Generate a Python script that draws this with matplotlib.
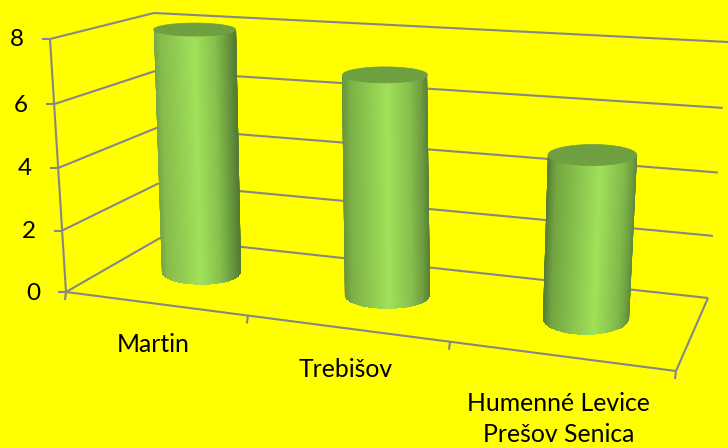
import numpy as np
import matplotlib
matplotlib.use("Agg")
import matplotlib.pyplot as plt
from matplotlib.colors import LinearSegmentedColormap
from matplotlib.patches import Polygon

# data
categories = ["Martin", "Trebišov", "Humenné Levice\nPrešov Senica"]
values = [8, 7, 5]
y_ticks = [0, 2, 4, 6, 8]

# layout of the 3D box (pixel corners)
FLOOR = {"fl": (66, 292), "fr": (676, 371), "bl": (160, 238), "br": (708, 298)}
TOP = {"fl": (50, 39), "fr": (686, 78), "bl": (154, 13), "br": (728, 42)}
VMAX = 8.0
K = 1.177
KV = 1.04
DEPTH = 0.55
GRID = "#868686"
BG = "#FFFF00"
CAP = "#6E9F41"
FONT = ["Lato", "DejaVu Sans"]

# cylinder radii in pixels: (rx_top, ry_top, rx_bottom, ry_bottom)
RADII = [(41, 6.5, 39.5, 12.5), (42.5, 8, 42.5, 13), (44.5, 10.5, 43, 16)]
# fine placement in pixels: (top dx, top dy, base dx, base dy)
NUDGE = [(0, 0, 0, 0), (1.5, 2, 5, 2), (2, 1, 2, 1)]
STOPS = [
    [(-1, (118, 165, 66)), (-0.85, (135, 188, 75)), (0.0, (160, 226, 90)), (0.5, (135, 192, 76)), (0.85, (100, 146, 58)), (1, (84, 124, 50))],
    [(-1, (105, 150, 60)), (-0.8, (126, 178, 70)), (0.05, (160, 226, 90)), (0.6, (135, 190, 76)), (0.88, (108, 155, 62)), (1, (90, 130, 54))],
    [(-1, (84, 124, 50)), (-0.8, (115, 165, 65)), (0.2, (160, 226, 90)), (0.75, (130, 185, 74)), (0.95, (108, 155, 62)), (1, (96, 140, 56))],
]


def persp(u):
    t = u / len(categories)
    return t / (t + K * (1 - t))


def project(u, w, v):
    """category position u, depth w (0 front, 1 back), value v -> pixels"""
    t = persp(u)
    out = []
    for c in (FLOOR, TOP):
        front = np.array(c["fl"]) * (1 - t) + np.array(c["fr"]) * t
        back = np.array(c["bl"]) * (1 - t) + np.array(c["br"]) * t
        out.append(front * (1 - w) + back * w)
    r = v / VMAX
    f = r / (r + KV * (1 - r))
    return out[0] * (1 - f) + out[1] * f


fig = plt.figure(figsize=(7.28, 4.48), dpi=100, facecolor=BG)
ax = fig.add_axes([0, 0, 1, 1])
ax.set_xlim(0, 728)
ax.set_ylim(448, 0)
ax.axis("off")
plt.rcParams["font.family"] = FONT
n = len(categories)
lw = 1.5


def seg(a, b, z=1):
    ax.plot([a[0], b[0]], [a[1], b[1]], color=GRID, lw=lw, zorder=z, solid_capstyle="butt")


# gridlines on the walls
for v in y_ticks:
    a, b, c = project(0, 0, v), project(0, 1, v), project(n, 1, v)
    seg(a, b)
    seg(b, c)
    seg(a - np.array([8, 0]), a)
    ax.text(a[0] - 26, a[1] + 1, str(v), ha="right", va="center", fontsize=17.5, color="black", fontfamily=FONT)

seg(project(0, 0, 0), project(0, 0, VMAX))
seg(project(0, 0, 0), project(n, 0, 0))
seg(project(n, 0, 0), project(n, 1, 0))
for i in range(n + 1):
    a = project(i, 0, 0)
    seg(a, a + np.array([-1, 8]))

# category labels
for i, name in enumerate(categories):
    p = project(i + 0.5, 0, 0)
    ax.text(p[0] - 1, p[1] + 41 if "\n" not in name else p[1] + 63, name, ha="center", va="center",
            fontsize=17.8, color="black", linespacing=1.38, fontfamily=FONT)

# cylinders: a shaded sheet clipped to the cylinder's silhouette
s = np.linspace(-1.04, 1.04, 161)
arc = np.linspace(np.pi, 0, 121)
for i, val in enumerate(values):
    rxt, ryt, rxb, ryb = RADII[i]
    tdx, tdy, bdx, bdy = NUDGE[i]
    base = project(i + 0.5, DEPTH, 0) + np.array([bdx, bdy])
    top = project(i + 0.5, DEPTH, val) + np.array([tdx, tdy])
    cmap = LinearSegmentedColormap.from_list(
        f"cyl{i}", [((p + 1) / 2, np.array(c) / 255) for p, c in STOPS[i]], N=512)
    y_rows = np.array([top[1] - 3, base[1] + ryb + 3])
    g = (y_rows - top[1]) / (base[1] - top[1])
    X = np.array([(top[0] + rxt * s) + gg * ((base[0] + rxb * s) - (top[0] + rxt * s)) for gg in g])
    Y = np.array([np.full_like(s, yy) for yy in y_rows])
    S = np.clip(np.vstack([s, s]), -1, 1)
    mesh = ax.pcolormesh(X, Y, S, shading="gouraud", cmap=cmap, vmin=-1, vmax=1, zorder=3)
    sil = np.vstack([
        [[top[0] - rxt, top[1]]],
        np.c_[base[0] + rxb * np.cos(arc), base[1] + ryb * np.sin(arc)],
        [[top[0] + rxt, top[1]]],
    ])
    clip = Polygon(sil, closed=True, transform=ax.transData)
    mesh.set_clip_path(clip)
    full = np.linspace(0, 2 * np.pi, 121)
    cap = np.c_[top[0] + rxt * np.cos(full), top[1] + ryt * np.sin(full)]
    ax.add_patch(Polygon(cap, closed=True, facecolor=CAP, edgecolor=CAP, lw=0.5, zorder=4, snap=False))

ax.set_xlim(0, 728)
ax.set_ylim(448, 0)
fig.savefig("out.png", dpi=100, facecolor=BG)
